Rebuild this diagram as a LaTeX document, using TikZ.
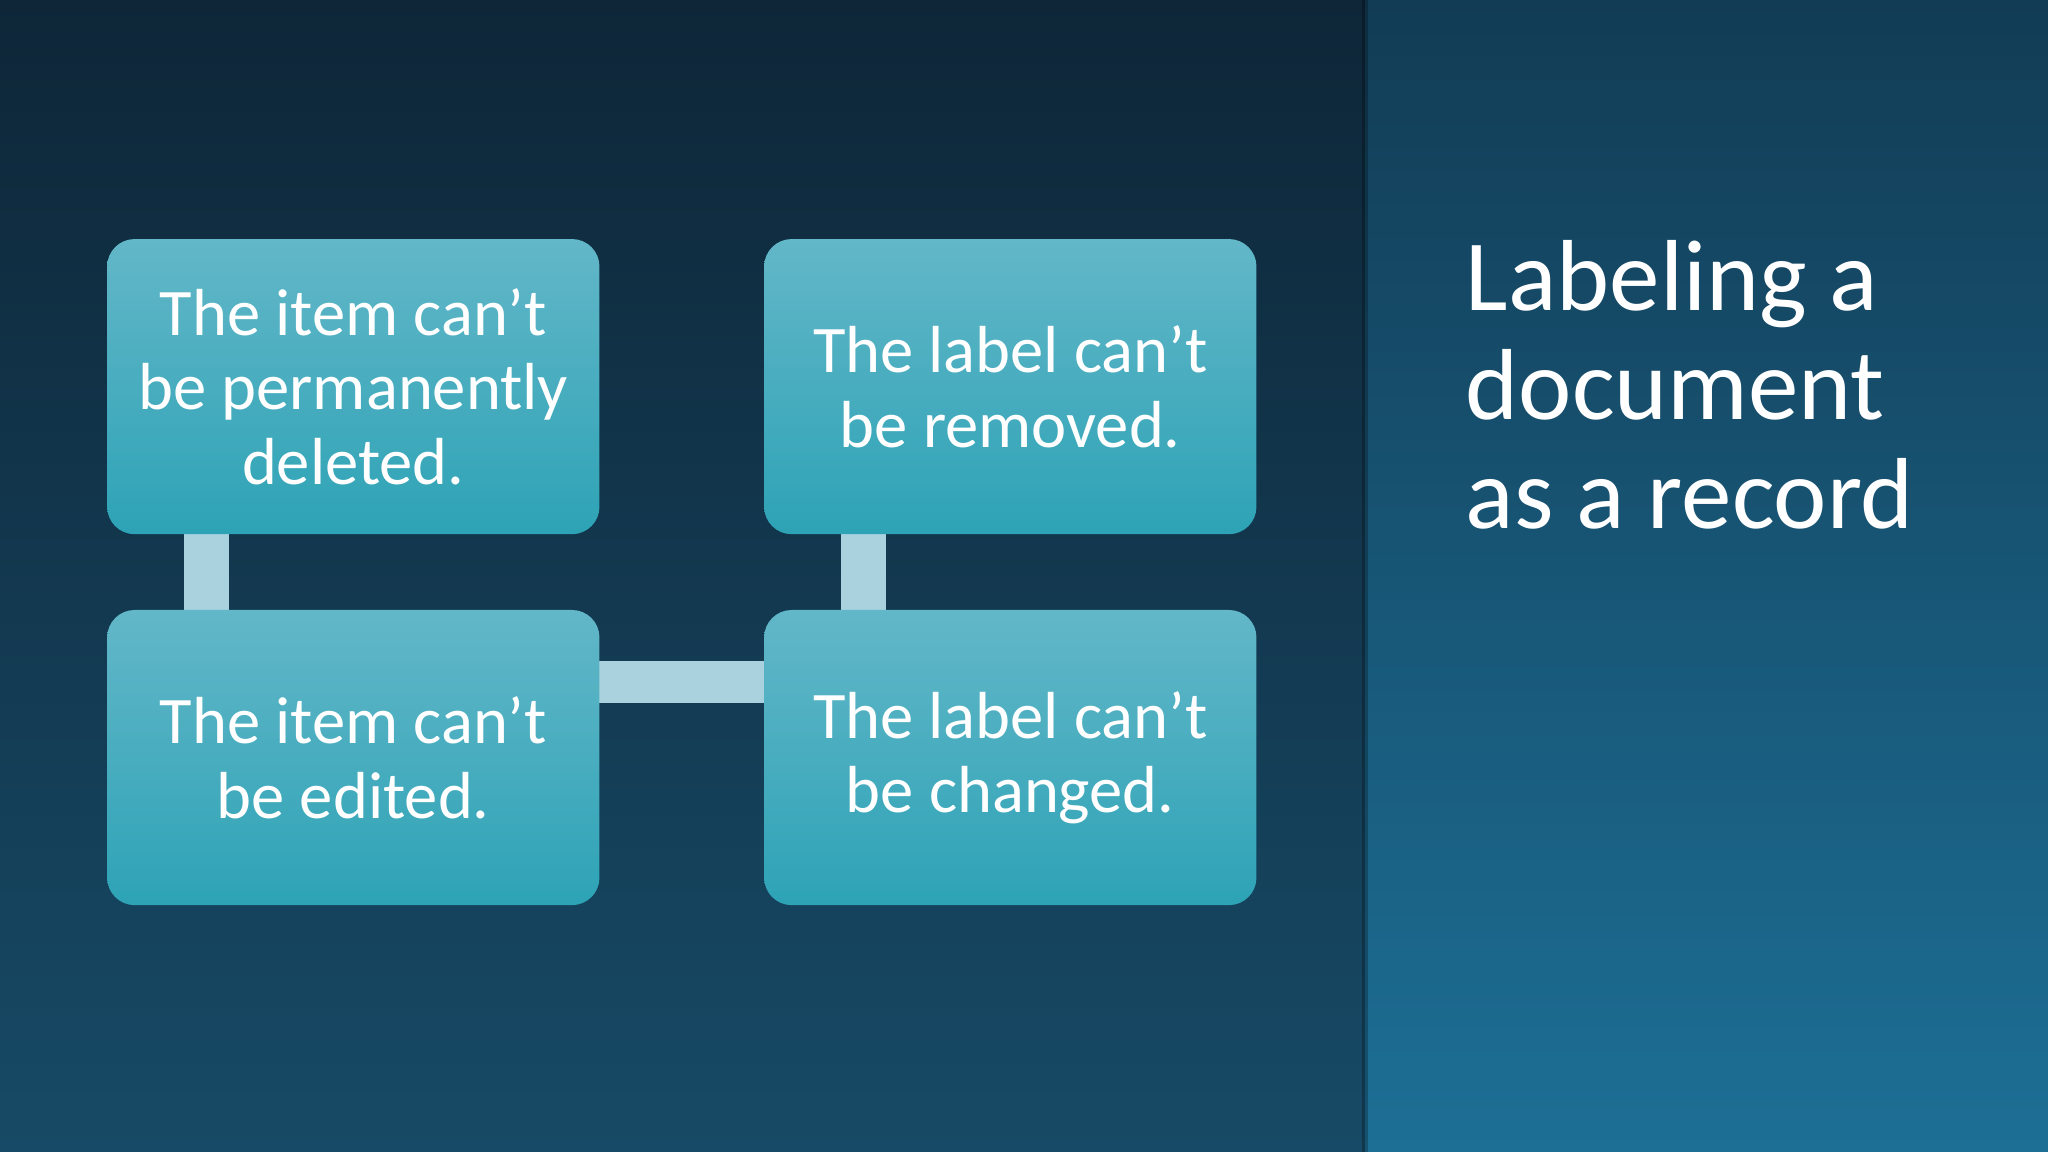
\documentclass[tikz,border=0pt]{standalone}
\usepackage{fontspec}
\setmainfont{Carlito}
\begin{document}
\begin{tikzpicture}[x=0.02cm,y=-0.02cm,
  card/.style={rounded corners=0.42cm,top color=boxtop,bottom color=boxbot,draw=none,
    minimum width=7.54cm,minimum height=4.52cm,text=white,align=center,
    font=\fontsize{29}{32.5}\selectfont,inner sep=0pt},
  bar/.style={fill=barc,draw=none}]
\definecolor{bgtop}{HTML}{0E2638}
\definecolor{bgbot}{HTML}{174A66}
\definecolor{pntop}{HTML}{123C55}
\definecolor{pnbot}{HTML}{1D6F96}
\definecolor{boxtop}{HTML}{62B7C8}
\definecolor{boxbot}{HTML}{2EA3B6}
\definecolor{barc}{HTML}{A9D2DE}
\useasboundingbox (0,0) rectangle (1568,882);
\shade[top color=bgtop,bottom color=bgbot] (0,0) rectangle (1045,882);
\shade[top color=pntop,bottom color=pnbot] (1045,0) rectangle (1568,882);
\fill[black,opacity=0.25] (1043,0) rectangle (1047,882);
\fill[bar] (141,405) rectangle (175,470);
\fill[bar] (644,405) rectangle (678,470);
\fill[bar] (455,506) rectangle (590,538);
\node[card] (a) at (270.5,296) {The item can’t\\be permanently\\deleted.};
\node[card] (b) at (773.5,296) {The label can’t\\be removed.};
\node[card] (c) at (270.5,580) {The item can’t\\be edited.};
\node[card] (d) at (773.5,580) {The label can’t\\be changed.};
\node[text=white,anchor=north west,align=left,inner sep=0pt,
  font=\fontsize{44}{47.5}\selectfont] (t) at (1122,184) {Labeling a\\document\\as a record};
\end{tikzpicture}
\end{document}
